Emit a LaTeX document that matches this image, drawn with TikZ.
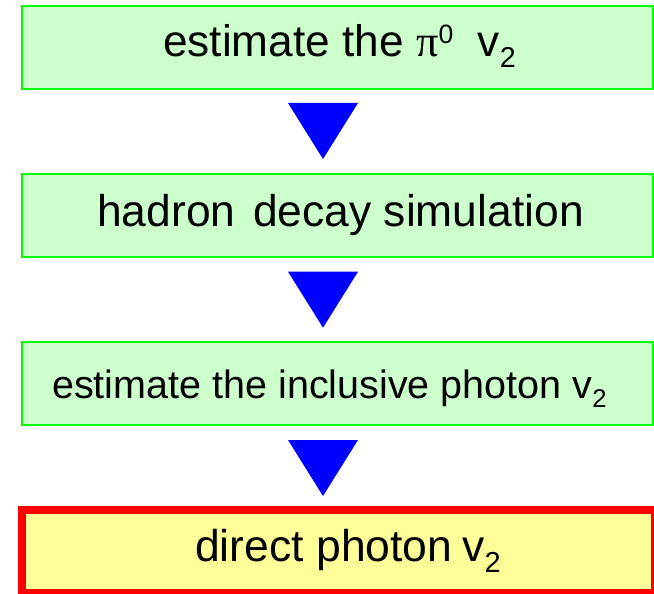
\documentclass[tikz,border=0pt]{standalone}
\usepackage{fontspec}
\setmainfont{Liberation Sans}
\newfontfamily\greekserif{Liberation Serif}
\newcommand\supx[1]{\raisebox{0.3em}{\scalebox{0.6}{#1}}}
\newcommand\subx[1]{\raisebox{-0.25em}{\scalebox{0.65}{#1}}}
\definecolor{boxgreen}{HTML}{CCFFCC}
\definecolor{linegreen}{HTML}{00FF00}
\definecolor{boxyellow}{HTML}{FFFF99}
\definecolor{linered}{HTML}{FF0000}
\definecolor{arrowblue}{HTML}{0000FF}
\begin{document}
\begin{tikzpicture}[x=1pt,y=-1pt,
  stepbox/.style={draw=linegreen, fill=boxgreen, line width=2pt, minimum width=631pt, minimum height=83.5pt, inner sep=0pt},
  resultbox/.style={draw=linered, fill=boxyellow, line width=8pt, minimum width=632.7pt, minimum height=83pt, inner sep=0pt},
  lbl/.style={inner sep=0pt, anchor=base west, text=black},
  arrowtri/.style={fill=arrowblue}]
\useasboundingbox (0,0) rectangle (654,594);
\node[stepbox] (b1) at (337.5,47.5) {};
\node[stepbox] (b2) at (337.5,215.5) {};
\node[stepbox] (b3) at (337.5,383.5) {};
\node[resultbox] (b4) at (338.3,551.5) {};
\node[lbl,font=\fontsize{44.2}{50}\selectfont] (l1) at (163,56.7) {estimate the {\greekserif π}\supx{0}\ \ v\subx{2}};
\node[lbl,font=\fontsize{44.4}{50}\selectfont] (l2) at (97,226.7) {hadron\hspace{0.4em}decay simulation};
\node[lbl,font=\fontsize{39.5}{45}\selectfont] (l3) at (52,398) {estimate the inclusive photon v\subx{2}};
\node[lbl,font=\fontsize{44.5}{50}\selectfont] (l4) at (195,561.7) {direct photon\hspace{0.22em}v\subx{2}};
\coordinate (t1) at (323,103);
\coordinate (t2) at (323,271.7);
\coordinate (t3) at (323,440);
\foreach \t in {t1,t2,t3}
  \fill[arrowtri] (\t) ++(-35,0) -- ++(70,0) -- ++(-35,56) -- cycle;
\end{tikzpicture}
\end{document}
